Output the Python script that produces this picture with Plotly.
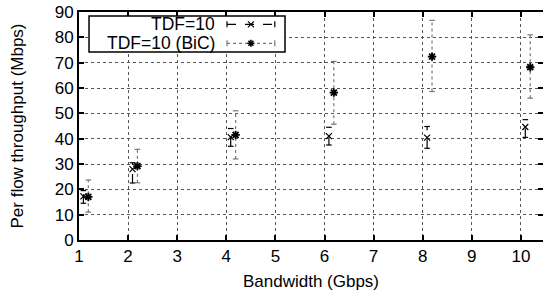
import plotly.graph_objects as go

# ---- data ----
bandwidth = [1, 2, 4, 6, 8, 10]
tdf_mean = [17.2, 28.0, 40.6, 41.0, 40.4, 44.6]
tdf_low = [14.5, 22.5, 37.0, 37.5, 36.2, 40.5]
tdf_high = [19.5, 30.5, 44.0, 44.5, 44.8, 47.5]
bic_mean = [17.0, 29.2, 41.5, 58.2, 72.4, 68.2]
bic_low = [11.0, 22.6, 32.0, 45.7, 58.6, 56.0]
bic_high = [23.7, 35.8, 51.0, 70.5, 86.7, 81.0]
x_ticks = [1, 2, 3, 4, 5, 6, 7, 8, 9, 10]
y_ticks = [0, 10, 20, 30, 40, 50, 60, 70, 80, 90]
series_names = ["TDF=10", "TDF=10 (BiC)"]

FONT = "Liberation Sans, Arial, Helvetica, sans-serif"
TDF_OFF = 0.09
BIC_OFF = 0.19

fig = go.Figure()


def add_series(off, mean, low, high, color, dash, symbol, msize, mwidth):
    xs = [b + off for b in bandwidth]
    seg_x, seg_y = [], []
    for x, lo, hi in zip(xs, low, high):
        seg_x += [x, x, None]
        seg_y += [lo, hi, None]
    fig.add_trace(go.Scatter(x=seg_x, y=seg_y, mode="lines",
                             line=dict(color=color, width=1.2, dash=dash),
                             hoverinfo="skip", showlegend=False))
    fig.add_trace(go.Scatter(x=xs + xs, y=list(low) + list(high), mode="markers",
                             marker=dict(symbol="line-ew", size=4,
                                         line=dict(color=color, width=1.2)),
                             hoverinfo="skip", showlegend=False))
    fig.add_trace(go.Scatter(x=xs, y=mean, mode="markers",
                             marker=dict(symbol=symbol, size=msize, color="black",
                                         line=dict(color="black", width=mwidth)),
                             showlegend=False))


add_series(TDF_OFF, tdf_mean, tdf_low, tdf_high, "black", "dash", "x-thin-open", 6, 1.2)
add_series(BIC_OFF, bic_mean, bic_low, bic_high, "#777777", "dot", "asterisk-open", 7, 1.8)

# ---- manual legend (gnuplot style: text then sample) ----
shapes = []
annotations = []
shapes.append(dict(type="rect", xref="paper", yref="paper",
                   x0=0.0216, x1=0.444, y0=0.8246, y1=0.982,
                   line=dict(color="black", width=1.5), fillcolor="white", layer="above"))
rows = [(0.946, "black", "dash", "x"), (0.8627, "#777777", "dot", "ast")]
sx0, sx1, sm = 0.319, 0.422, 0.3705
for (yy, col, dsh, mk), name in zip(rows, series_names):
    annotations.append(dict(text=name, xref="paper", yref="paper", x=0.297, y=yy,
                            xanchor="right", yanchor="middle", showarrow=False,
                            font=dict(family=FONT, size=17.5, color="black")))
    shapes.append(dict(type="line", xref="paper", yref="paper", x0=sx0, x1=sx1,
                       y0=yy, y1=yy, line=dict(color=col, width=1.2, dash=dsh), layer="above"))
    for ex in (sx0, sx1):
        shapes.append(dict(type="line", xref="paper", yref="paper", xsizemode="pixel",
                           ysizemode="pixel", xanchor=ex, yanchor=yy,
                           x0=0, x1=0, y0=-3, y1=3,
                           line=dict(color=col, width=1.2), layer="above"))
    if mk == "x":
        segs = [(-3, -3, 3, 3), (-3, 3, 3, -3)]
        w = 1.2
    else:
        segs = [(-3.5, 0, 3.5, 0), (0, -3.5, 0, 3.5), (-2.5, -2.5, 2.5, 2.5), (-2.5, 2.5, 2.5, -2.5)]
        w = 1.6
    for a, b, c, d in segs:
        shapes.append(dict(type="line", xref="paper", yref="paper", xsizemode="pixel",
                           ysizemode="pixel", xanchor=sm, yanchor=yy,
                           x0=a, y0=b, x1=c, y1=d,
                           line=dict(color="black", width=w), layer="above"))

axis_common = dict(
    showline=True, linecolor="black", linewidth=2, mirror="ticks",
    ticks="inside", ticklen=5, tickwidth=1.5, tickcolor="black",
    showgrid=True, gridcolor="#555555", gridwidth=1, griddash="dot",
    zeroline=False, automargin=False,
    tickfont=dict(family=FONT, size=17, color="black"),
)

fig.update_layout(
    width=543, height=296,
    margin=dict(l=79, r=0, t=12, b=56),
    paper_bgcolor="white", plot_bgcolor="white",
    showlegend=False,
    shapes=shapes, annotations=annotations,
    xaxis=dict(range=[1, 10.45], tickvals=x_ticks,
               title=dict(text="Bandwidth (Gbps)", standoff=10,
                          font=dict(family=FONT, size=17, color="black")),
               **axis_common),
    yaxis=dict(range=[0, 90], tickvals=y_ticks,
               title=dict(text="Per flow throughput (Mbps)", standoff=27,
                          font=dict(family=FONT, size=17, color="black")),
               **axis_common),
)

# remove the default page margin so the figure sits at the window origin
fig.write_html(
    "out.html",
    config={"displayModeBar": False},
    post_script="document.body.style.margin='0';document.body.style.overflow='hidden';",
)
